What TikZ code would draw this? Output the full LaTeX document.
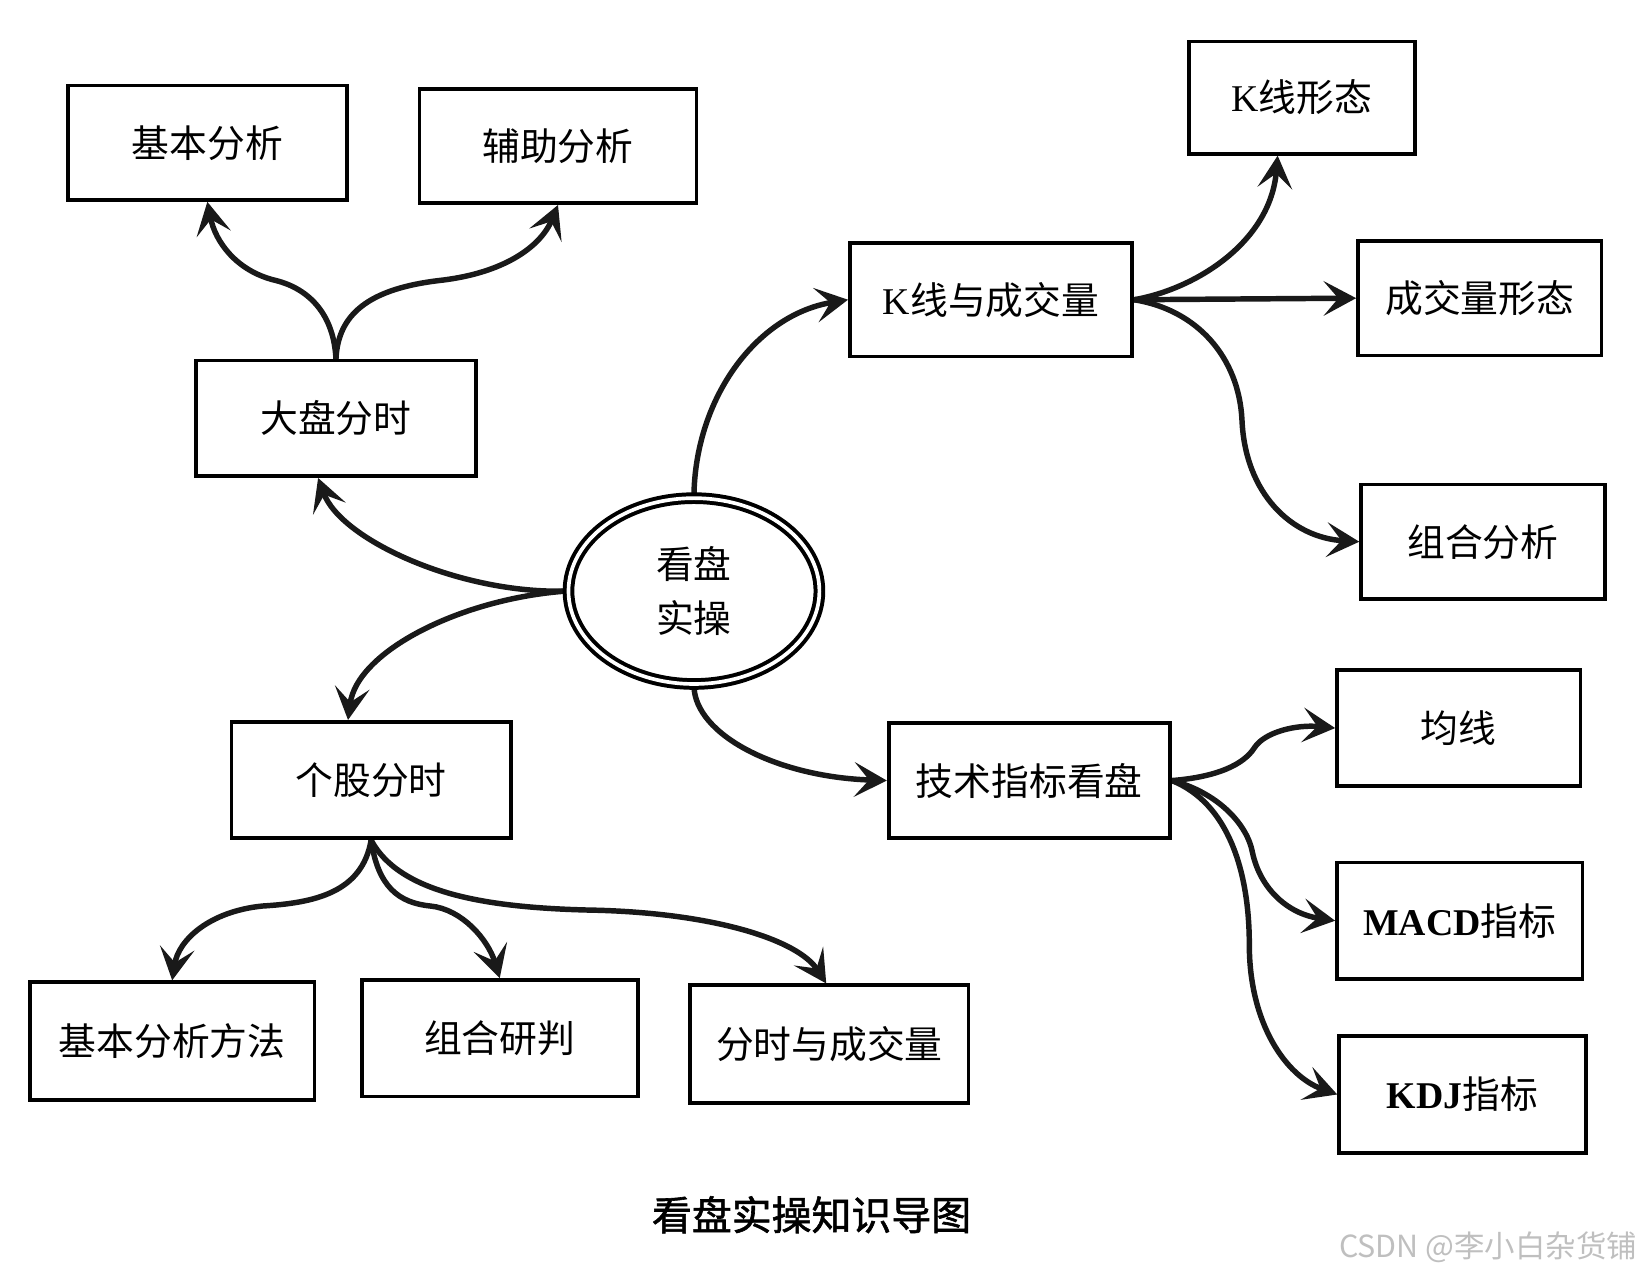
\documentclass[tikz,border=0pt]{standalone}
\usepackage{fontspec}
\setmainfont{Liberation Serif}
\newfontfamily\cjk{Noto Sans CJK SC}
\newfontfamily\cjkcap[FakeBold=1.5]{Noto Sans CJK SC}
\usetikzlibrary{arrows.meta,shapes.geometric,calc}
\pgfdeclarelayer{bottom}
\pgfdeclarelayer{lines}
\pgfsetlayers{bottom,lines,main}
\tikzset{
  box/.style={draw, line width=3.5pt, fill=white, inner sep=0pt,
    font=\cjk\fontsize{36}{40}\selectfont},
  conn/.style={line width=5.2pt, line cap=round, color=black!90,
    -{Stealth[length=31pt,width=33pt,inset=14pt]}},
}
\begin{document}
\begin{tikzpicture}[x=1pt,y=-1pt]
\begin{pgfonlayer}{bottom}
\fill[white] (0,0) rectangle (1565,1218.3);
\end{pgfonlayer}
\useasboundingbox (0,0) rectangle (1565,1218.3);

% nodes
\node[box, minimum width=266pt, minimum height=109pt] (jbfx) at (197.5,136) {基本分析};
\node[box, minimum width=264pt, minimum height=109pt] (fzfx) at (531.5,139) {辅助分析};
\node[box, minimum width=215pt, minimum height=107pt] (kxxt) at (1240,93) {{\rmfamily K}线形态};
\node[box, minimum width=269pt, minimum height=108pt] (kxcj) at (944,285.5) {{\rmfamily K}线与成交量};
\node[box, minimum width=232pt, minimum height=109pt] (cjxt) at (1409.5,284) {成交量形态};
\node[box, minimum width=267pt, minimum height=110pt] (dpfs) at (320,398.5) {大盘分时};
\node[box, minimum width=232pt, minimum height=109pt] (zhfx) at (1412.5,516) {组合分析};
\node[box, minimum width=232pt, minimum height=110pt] (jx) at (1389.5,693.5) {均线};
\node[box, minimum width=266pt, minimum height=111pt] (ggfs) at (353.5,743) {个股分时};
\node[box, minimum width=268pt, minimum height=110pt] (jszb) at (980.5,743.5) {技术指标看盘};
\node[box, minimum width=234pt, minimum height=111pt] (macd) at (1390.5,877) {{\rmfamily\bfseries MACD}指标};
\node[box, minimum width=235pt, minimum height=112pt] (kdj) at (1393,1042.5) {{\rmfamily\bfseries KDJ}指标};
\node[box, minimum width=271pt, minimum height=112pt] (jbff) at (164,991.5) {基本分析方法};
\node[box, minimum width=263pt, minimum height=111pt] (zhyp) at (476,989) {组合研判};
\node[box, minimum width=265pt, minimum height=112pt] (fscj) at (790,994.5) {分时与成交量};

\node[ellipse, draw, double, line width=3.8pt, double distance=3.5pt, fill=white,
  minimum width=239pt, minimum height=177pt, inner sep=0pt, align=center,
  font=\cjk\fontsize{36}{52}\selectfont] (kp) at (661,563) {看盘\\实操};

\node[font=\cjkcap\fontsize{38}{40}\selectfont] (cap) at (773,1157) {看盘实操知识导图};
\node[anchor=east, text=black!25, font=\cjk\fontsize{29}{32}\selectfont] (wm) at (1563,1188) {CSDN @李小白杂货铺};

% connectors
\begin{pgfonlayer}{lines}
\draw[conn] (dpfs.north) .. controls (318,300) and (295,275) .. (262,267)
  .. controls (225,258) and (205,230) .. (jbfx.south);
\draw[conn] (dpfs.north) .. controls (322,300) and (350,275) .. (420,267)
  .. controls (480,260) and (515,235) .. (fzfx.south);
\draw[conn] (kp.west) .. controls (440,566) and (325,515) .. ($(dpfs.south)+(-17,0)$);
\draw[conn] (kp.west) .. controls (440,570) and (340,620) .. ($(ggfs.north)+(-22,0)$);
\draw[conn] (kp.north) .. controls (662,380) and (720,300) .. (kxcj.west);
\draw[conn] (kp.south) .. controls (662,700) and (740,740) .. (jszb.west);

\draw[conn] (kxcj.east) .. controls (1140,275) and (1210,230) .. ($(kxxt.south)+(-23,0)$);
\draw[conn] (kxcj.east) -- (cjxt.west);
\draw[conn] (kxcj.east) .. controls (1140,295) and (1180,340) .. (1183,400)
  .. controls (1186,470) and (1230,512) .. (zhfx.west);

\draw[conn] (jszb.east) .. controls (1160,740) and (1185,728) .. (1195,712)
  .. controls (1205,697) and (1235,690) .. (jx.west);
\draw[conn] (jszb.east) .. controls (1160,755) and (1188,785) .. (1193,812)
  .. controls (1200,845) and (1225,870) .. (macd.west);
\draw[conn] (jszb.east) .. controls (1170,765) and (1190,830) .. (1190,900)
  .. controls (1190,975) and (1225,1025) .. (kdj.west);

\draw[conn] (ggfs.south) .. controls (345,850) and (300,860) .. (250,863)
  .. controls (200,868) and (170,895) .. (jbff.north);
\draw[conn] (ggfs.south) .. controls (360,845) and (380,860) .. (410,863)
  .. controls (440,866) and (465,895) .. (zhyp.north);
\draw[conn] (ggfs.south) .. controls (380,850) and (460,865) .. (568,867)
  .. controls (680,870) and (760,895) .. ($(fscj.north)+(-3,0)$);
\end{pgfonlayer}
\end{tikzpicture}
\end{document}
